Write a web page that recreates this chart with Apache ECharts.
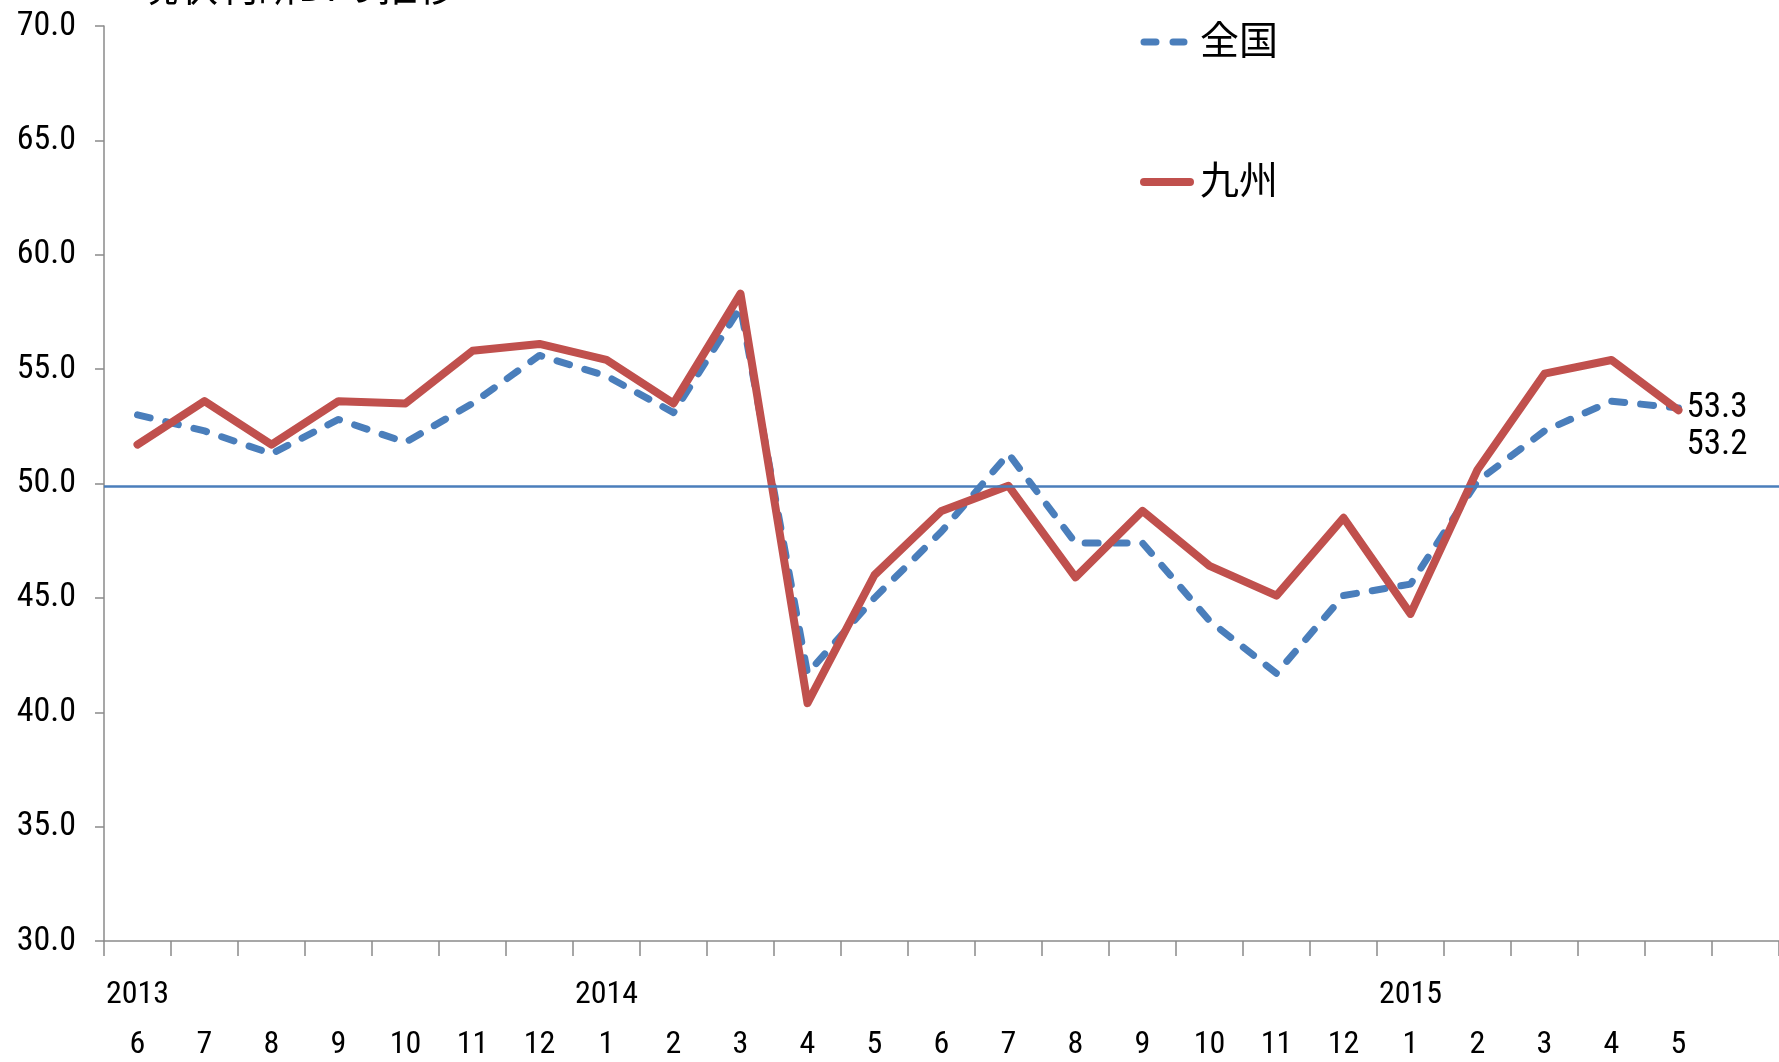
<!DOCTYPE html>
<html>
<head>
<meta charset="utf-8">
<script src="https://cdn.jsdelivr.net/npm/echarts@6/dist/echarts.min.js"></script>
<style>
html,body{margin:0;padding:0;background:#fff;}
#chart{width:1779px;height:1062px;}
</style>
</head>
<body>
<div id="chart"></div>
<script>
const months = ['6','7','8','9','10','11','12','1','2','3','4','5','6','7','8','9','10','11','12','1','2','3','4','5',''];
const years  = ['2013','','','','','','','2014','','','','','','','','','','','','2015','','','','',''];
const zenkoku = [53.0,52.3,51.3,52.8,51.8,53.5,55.6,54.7,53.1,57.7,41.7,45.0,47.9,51.3,47.4,47.4,44.0,41.7,45.1,45.6,50.1,52.3,53.6,53.3];
const kyushu  = [51.7,53.6,51.7,53.6,53.5,55.8,56.1,55.4,53.5,58.3,40.4,46.0,48.8,49.9,45.9,48.8,46.4,45.1,48.5,44.3,50.6,54.8,55.4,53.2];
const yTicks = {min:30, max:70, interval:5};
const refLine = 49.9;
const titleText = '現状判断DIの推移';
const seriesNames = ['全国','九州'];

const numFont = '"Roboto Condensed", "DejaVu Sans Condensed", sans-serif';
const cjkFont = '"Noto Sans CJK JP","Noto Sans",sans-serif';
const blue = '#4A7EBB', red = '#C0504D';

const chart = echarts.init(document.getElementById('chart'));
chart.setOption({
  animation:false,
  backgroundColor:'#ffffff',
  graphic:[
    {type:'text', left:138, top:-34, style:{text:titleText, font:'40px ' + cjkFont, fill:'#000'}},
    {type:'line', shape:{x1:1144, y1:42, x2:1184, y2:42},
      style:{stroke:blue, lineWidth:7, lineDash:[12,17], lineCap:'round'}},
    {type:'text', left:1200, top:20, style:{text:seriesNames[0], font:'39px ' + cjkFont, fill:'#000'}},
    {type:'line', shape:{x1:1144, y1:182, x2:1190, y2:182},
      style:{stroke:red, lineWidth:8, lineCap:'round'}},
    {type:'text', left:1200, top:160, style:{text:seriesNames[1], font:'39px ' + cjkFont, fill:'#000'}}
  ],
  grid:{left:104, right:0, top:26, bottom:121, containLabel:false, outerBoundsMode:'none'},
  xAxis:{
    type:'category', data:months, boundaryGap:true,
    axisLine:{lineStyle:{color:'#8a8a8a', width:1.5}},
    axisTick:{show:true, interval:0, length:15, lineStyle:{color:'#8a8a8a', width:1.5}},
    axisLabel:{
      interval:0, margin:29, color:'#000', fontFamily:numFont, fontSize:32, lineHeight:50,
      formatter:function(v, i){ return years[i] + '\n' + v; }
    },
    splitLine:{show:false}
  },
  yAxis:{
    type:'value', min:yTicks.min, max:yTicks.max, interval:yTicks.interval,
    axisLine:{show:true, lineStyle:{color:'#8a8a8a', width:1.5}},
    axisTick:{show:true, length:9, lineStyle:{color:'#8a8a8a', width:1.5}},
    axisLabel:{color:'#000', fontFamily:numFont, fontSize:34, margin:28,
      formatter:function(v){ return v.toFixed(1); }},
    splitLine:{show:false}
  },
  series:[
    {
      name:seriesNames[0], type:'line', data:zenkoku, symbol:'none',
      lineStyle:{color:blue, width:7, type:[13,16], cap:'round', join:'round'},
      itemStyle:{color:blue},
      endLabel:{show:true, distance:8, offset:[0,0], color:'#000', fontFamily:numFont, fontSize:35,
        formatter:function(p){ return p.value.toFixed(1); }},
      markLine:{
        silent:true, symbol:'none', label:{show:false},
        lineStyle:{color:blue, width:2.5, type:'solid'},
        data:[{yAxis:refLine}]
      },
      z:2
    },
    {
      name:seriesNames[1], type:'line', data:kyushu, symbol:'none',
      lineStyle:{color:red, width:8, type:'solid', cap:'round', join:'round'},
      itemStyle:{color:red},
      endLabel:{show:true, distance:8, offset:[0,35], color:'#000', fontFamily:numFont, fontSize:35,
        formatter:function(p){ return p.value.toFixed(1); }},
      z:3
    }
  ]
});
</script>
</body>
</html>
